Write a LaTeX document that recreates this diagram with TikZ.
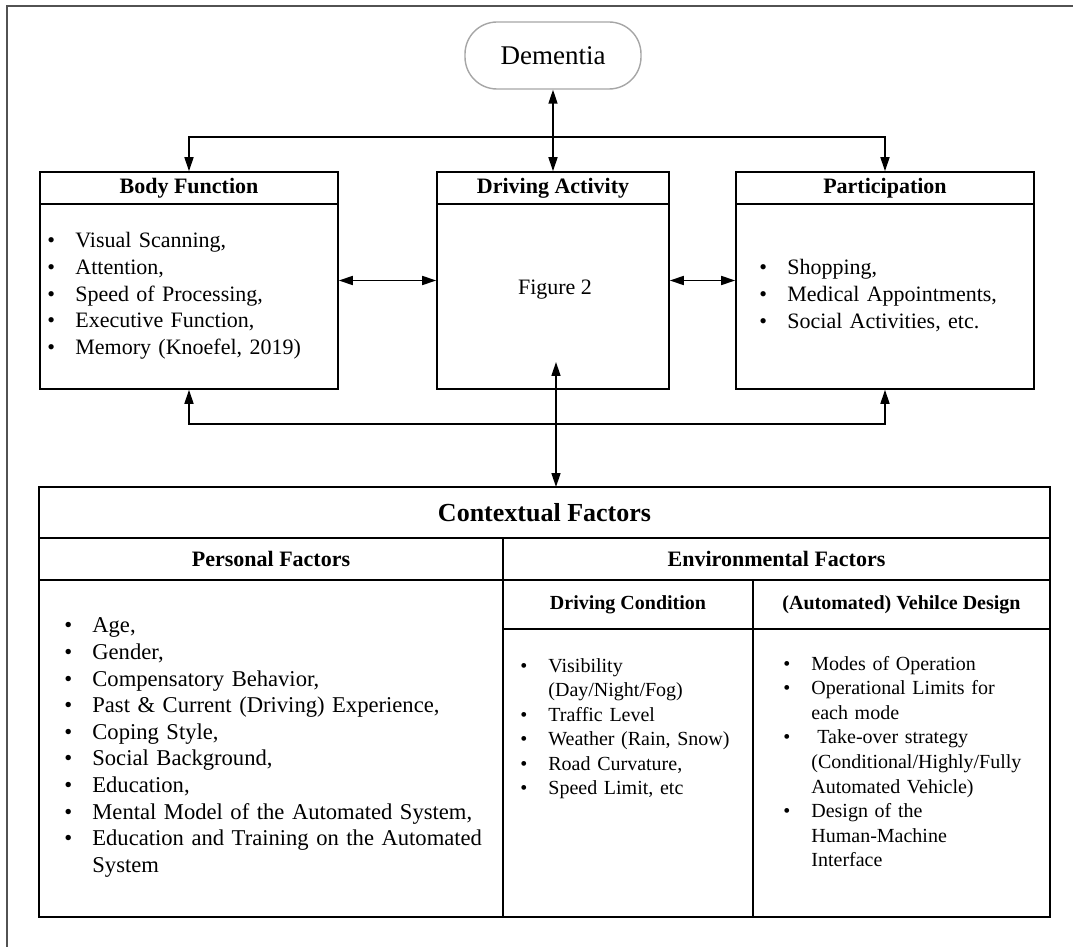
\documentclass[tikz,border=0pt]{standalone}
\usepackage{fontspec}
\setmainfont{Liberation Serif}
\usepackage{tikz}
\usetikzlibrary{arrows.meta, positioning, calc}
\setlength{\parindent}{0pt}
\newcommand{\fbody}{\fontsize{11}{13.3}\selectfont}
\newcommand{\fsub}{\fontsize{10}{12.3}\selectfont}
\newcommand{\bitem}[1]{\par\noindent\hangindent=14pt\hangafter=1\strut\makebox[14pt][l]{\textbullet}#1\par}

\begin{document}
\begin{tikzpicture}[x=0.5pt, y=-0.5pt,
  >={Triangle[length=7pt,width=4.5pt]},
  arr/.style={line width=0.8pt},
  box/.style={draw, line width=0.8pt, inner sep=0pt, minimum height=108.5pt},
  hbox/.style={draw, line width=0.8pt, inner sep=0pt, minimum height=16pt, anchor=north, font=\fbody\bfseries},
  cell/.style={draw, line width=1pt, inner sep=0pt, outer sep=0pt},
  lst/.style={anchor=north west, align=left, inner sep=0pt, text width=#1},
]
  \useasboundingbox (0,0) rectangle (1073,947);
  \draw[line width=1pt, black!68] (7,947) -- (7,6) -- (1073,6);

  % top row
  \node[draw=black!35, line width=0.7pt, rounded corners=16pt, minimum width=88pt, minimum height=33.5pt,
    font=\fontsize{13.5}{16}\selectfont] (dem) at (553,55.5) {Dementia};

  \node[box, minimum width=149pt] (bf) at (189,280.5) {};
  \node[hbox, minimum width=149pt] (bfh) at (bf.north) {Body Function};
  \node[box, minimum width=116pt] (da) at (553,280.5) {};
  \node[hbox, minimum width=116pt] (dah) at (da.north) {Driving Activity};
  \node[box, minimum width=149pt] (pa) at (885,280.5) {};
  \node[hbox, minimum width=149pt] (pah) at (pa.north) {Participation};

  \node[lst=170pt, font=\fbody] (bfl) at (47,221)
    {\bitem{Visual Scanning,}\bitem{Attention,}\bitem{Speed of Processing,}\bitem{Executive Function,}\bitem{Memory (Knoefel, 2019)}};
  \node[font=\fbody] (fig) at (555,290) {Figure 2};
  \node[lst=170pt, font=\fbody] (pal) at (759,248)
    {\bitem{Shopping,}\bitem{Medical Appointments,}\bitem{Social Activities, etc.}};

  % connectors
  \coordinate (tj) at (553,137);
  \draw[arr,<->] (dem) -- (dah);
  \draw[arr,->] (tj) -| (bfh.north);
  \draw[arr,->] (tj) -| (pah.north);
  \draw[arr,<->] (bf) -- (da);
  \draw[arr,<->] (da) -- (pa);
  \draw[arr,<->] (bf.south) -- ++(0,34) -| (pa.south);

  % contextual factors table
  \node[cell, minimum width=505.5pt, minimum height=215pt] (ctx) at (544.5,702) {};
  \node[cell, minimum width=505.5pt, minimum height=25.5pt, anchor=north,
    font=\fontsize{13}{15}\selectfont\bfseries] (ctxh) at (ctx.north) {Contextual Factors};
  \node[cell, minimum width=232pt, minimum height=21pt, anchor=north west, font=\fbody\bfseries] (pfh) at (ctxh.south west) {Personal Factors};
  \node[cell, minimum width=273.5pt, minimum height=21pt, anchor=north west, font=\fbody\bfseries] (efh) at (pfh.north east) {Environmental Factors};
  \node[cell, minimum width=125pt, minimum height=24.5pt, anchor=north west, font=\fsub\bfseries] (dch) at (efh.south west) {Driving Condition};
  \node[cell, minimum width=148.5pt, minimum height=24.5pt, anchor=north west, font=\fsub\bfseries] (vdh) at (dch.north east) {(Automated) Vehilce Design};
  \draw[line width=1pt] (pfh.south east) -- (pfh.east |- ctx.south);
  \draw[line width=1pt] (dch.south east) -- (dch.east |- ctx.south);

  \coordinate (dain) at (556,362);
  \draw[arr,<->] (dain) -- (dain |- ctx.north);

  \node[lst=225pt, font=\fontsize{11.3}{13.3}\selectfont] (pfl) at (64,606)
    {\bitem{Age,}\bitem{Gender,}\bitem{Compensatory Behavior,}\bitem{Past \& Current (Driving) Experience,}\bitem{Coping Style,}\bitem{Social Background,}\bitem{Education,}\bitem{Mental Model of the Automated System,}\bitem{Education and Training on the Automated\newline System}};
  \node[lst=118pt, font=\fsub] (dcl) at (520,647)
    {\bitem{Visibility\newline (Day/Night/Fog)}\bitem{Traffic Level}\bitem{Weather (Rain, Snow)}\bitem{Road Curvature,}\bitem{Speed Limit, etc}};
  \node[lst=140pt, font=\fsub] (vdl) at (783,645)
    {\bitem{Modes of Operation}\bitem{Operational Limits for\newline each mode}\bitem{\hspace{3pt}Take-over strategy\newline (Conditional/Highly/Fully\newline Automated Vehicle)}\bitem{Design of the\newline Human-Machine\newline Interface}};
\end{tikzpicture}
\end{document}
